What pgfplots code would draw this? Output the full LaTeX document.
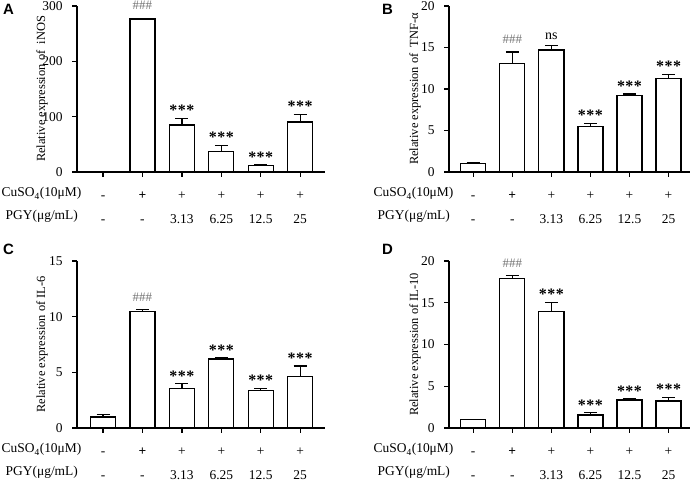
\documentclass[border=0pt]{standalone}
\usepackage{fontspec}
\setmainfont{Liberation Serif}
\newfontfamily\arialfont{Liberation Sans}
\usepackage{pgfplots}
\pgfplotsset{compat=1.18}

\pgfplotsset{
  panel/.style={
    scale only axis, clip=false,
    axis x line*=bottom, axis y line*=left,
    axis line style={line width=1.3bp},
    tick style={line width=1.3bp, black},
    tick align=outside, major tick length=5bp,
    ymin=0,
    xtick={0,1,2,3,4,5},
    xticklabels={-,\textbf{+},+,+,+,+},
    extra x ticks={0,1,2,3,4,5},
    extra x tick labels={-,-,3.13,6.25,12.5,25},
    extra x tick style={xticklabel style={yshift=-23.5bp}},
    xticklabel style={anchor=base, inner sep=0.5bp, yshift=-23bp, font=\fontsize{13.5}{15}\selectfont},
    yticklabel style={xshift=-6bp, font=\fontsize{13.5}{15}\selectfont},
    /pgf/number format/assume math mode=true,
    ylabel style={font=\fontsize{12.5}{14}\selectfont,
      at={(axis description cs:-0.141,0.5)}, anchor=center},
  },
  bars/.style={ybar, bar width=25bp, fill=white, draw=black, line width=1.3bp,
    error bars/.cd, y dir=plus, y explicit,
    error mark options={rotate=90, mark size=6.5bp, line width=1.3bp, black},
    error bar style={line width=1.3bp, black}},
}
\tikzset{
  stars/.style={anchor=south, yshift=-1bp, font=\bfseries\fontsize{16}{16}\selectfont},
  hashes/.style={anchor=south, yshift=5bp, text=black!55, font=\fontsize{13}{13}\selectfont},
  ns/.style={anchor=south, yshift=3bp, font=\fontsize{14}{14}\selectfont},
}
\newcommand{\rowlabels}{%
  \node[anchor=base west, inner sep=0pt, font=\fontsize{13.5}{15}\selectfont,
    xshift=-75.5bp, yshift=-25bp] at (axis description cs:0,0) {CuSO\textsubscript{4}(10μM)};
  \node[anchor=base west, inner sep=0pt, font=\fontsize{13.5}{15}\selectfont,
    xshift=-71.5bp, yshift=-48bp] at (axis description cs:0,0) {PGY(μg/mL)};
}
\newcommand{\st}{*\kern0.5bp*\kern0.5bp*}

\begin{document}
\begin{tikzpicture}[x=1bp,y=1bp]
\useasboundingbox (0,0) rectangle (699,481);

% A: iNOS
\begin{axis}[panel, at={(77bp,309bp)}, anchor=south west, width=248bp, height=166bp,
  xmin=-0.66, xmax=5.63, ymax=300, ytick={0,100,200,300},
  ylabel={Relative expression of\ \ iNOS}]
\addplot[bars] table[x=x, y=y, y error=e] {
x y e
0 1.0 0.5
1 276.5 1.0
2 85.0 12.0
3 37.0 11.0
4 11.4 1.2
5 90.4 13.6
};
\node[hashes] at (axis cs:1,277.5) {\#\#\#};
\node[stars] at (axis cs:2,97) {\st};
\node[stars] at (axis cs:3,48) {\st};
\node[stars] at (axis cs:4,12.6) {\st};
\node[stars] at (axis cs:5,104) {\st};
\rowlabels
\end{axis}

% B: TNF-alpha
\begin{axis}[panel, at={(449bp,309bp)}, anchor=south west, width=241bp, height=166bp,
  xmin=-0.62, xmax=5.55, ymax=20, ytick={0,5,10,15,20},
  ylabel={Relative expression of\ \ TNF-α}]
\addplot[bars] table[x=x, y=y, y error=e] {
x y e
0 1.0 0.08
1 13.1 1.36
2 14.7 0.5
3 5.46 0.4
4 9.24 0.16
5 11.3 0.47
};
\node[hashes] at (axis cs:1,14.46) {\#\#\#};
\node[ns] at (axis cs:2,15.2) {ns};
\node[stars] at (axis cs:3,5.86) {\st};
\node[stars] at (axis cs:4,9.4) {\st};
\node[stars] at (axis cs:5,11.77) {\st};
\rowlabels
\end{axis}

% C: IL-6
\begin{axis}[panel, at={(77bp,53bp)}, anchor=south west, width=248bp, height=167bp,
  xmin=-0.66, xmax=5.63, ymax=15, ytick={0,5,10,15},
  ylabel={Relative expression of IL-6}]
\addplot[bars] table[x=x, y=y, y error=e] {
x y e
0 1.0 0.2
1 10.45 0.17
2 3.56 0.42
3 6.2 0.13
4 3.38 0.17
5 4.65 0.92
};
\node[hashes] at (axis cs:1,10.62) {\#\#\#};
\node[stars] at (axis cs:2,3.98) {\st};
\node[stars] at (axis cs:3,6.33) {\st};
\node[stars] at (axis cs:4,3.55) {\st};
\node[stars] at (axis cs:5,5.57) {\st};
\rowlabels
\end{axis}

% D: IL-10
\begin{axis}[panel, at={(449bp,53bp)}, anchor=south west, width=241bp, height=167bp,
  xmin=-0.62, xmax=5.55, ymax=20, ytick={0,5,10,15,20},
  ylabel={Relative expression of IL-10}]
\addplot[bars] table[x=x, y=y, y error=e] {
x y e
0 1.0 0.03
1 17.9 0.36
2 13.95 1.12
3 1.55 0.27
4 3.35 0.18
5 3.22 0.45
};
\node[hashes] at (axis cs:1,18.26) {\#\#\#};
\node[stars] at (axis cs:2,15.07) {\st};
\node[stars] at (axis cs:3,1.82) {\st};
\node[stars] at (axis cs:4,3.53) {\st};
\node[stars] at (axis cs:5,3.67) {\st};
\rowlabels
\end{axis}

\begin{scope}[every node/.style={anchor=base west, inner sep=0pt,
    font=\arialfont\bfseries\fontsize{15}{15}\selectfont}]
\node at (3,466) {A};
\node at (382,466) {B};
\node at (3,226) {C};
\node at (382,226) {D};
\end{scope}
\end{tikzpicture}
\end{document}
